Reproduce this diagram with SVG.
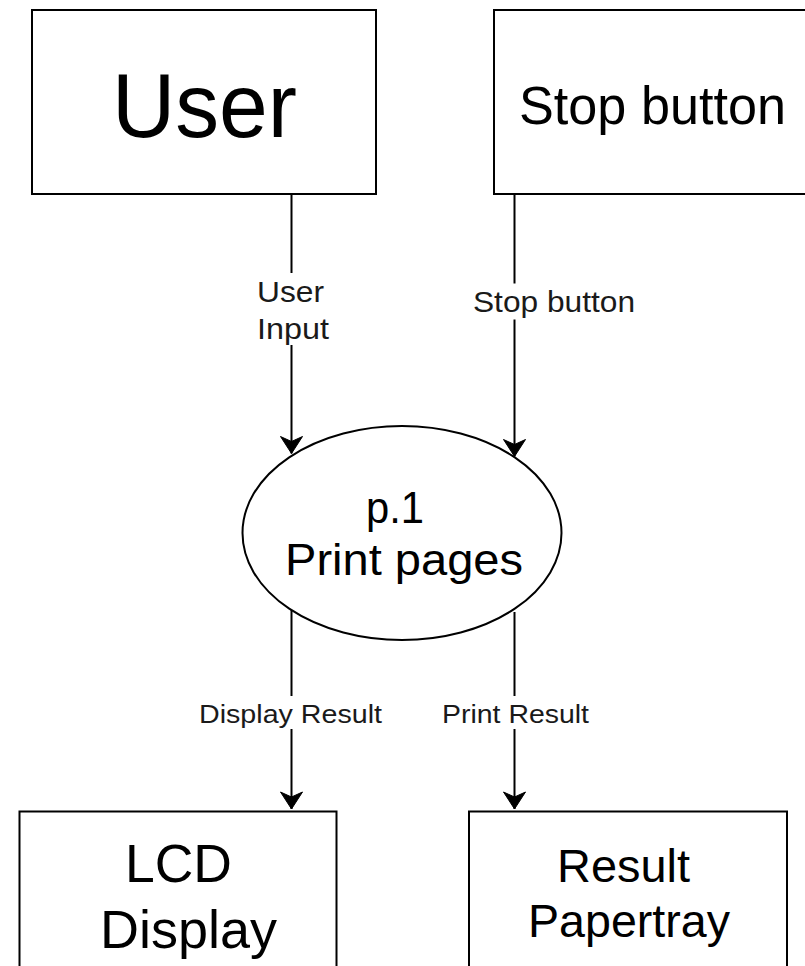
<svg xmlns="http://www.w3.org/2000/svg" width="805" height="966" viewBox="0 0 805 966">
<style>
.box{fill:#fff;stroke:#000;stroke-width:2}
.t{font-family:"Liberation Sans",Arial,Helvetica,sans-serif;fill:#000}
.lbl{font-family:"Liberation Sans",Arial,Helvetica,sans-serif;fill:#1a1a1a}
.edge{stroke:#000;stroke-width:2;fill:none}
.lblbg{fill:#fff}
</style>
<defs>
<marker id="arrow" markerUnits="userSpaceOnUse" markerWidth="30" markerHeight="30" refX="0" refY="0" viewBox="-15 -15 30 30" orient="auto" overflow="visible">
<path d="M0,0 L-17,-11 L-12,0 L-17,11 Z" fill="#000" stroke="#000" stroke-width="1"/>
</marker>
</defs>
<rect width="805" height="966" fill="#fff"/>
<g id="connectors">
<g id="e-user">
<line class="edge" x1="291.5" y1="194" x2="291.5" y2="453.5" marker-end="url(#arrow)"/>
<rect class="lblbg" x="254" y="273" width="77" height="72"/>
<text class="lbl" x="257" y="302" font-size="30" textLength="67" lengthAdjust="spacingAndGlyphs">User</text>
<text class="lbl" x="257" y="339" font-size="30" textLength="72" lengthAdjust="spacingAndGlyphs">Input</text>
</g>
<g id="e-stop">
<line class="edge" x1="514.5" y1="194" x2="514.5" y2="456.5" marker-end="url(#arrow)"/>
<rect class="lblbg" x="471" y="283.5" width="166" height="36"/>
<text class="lbl" x="473" y="312" font-size="30" textLength="162" lengthAdjust="spacingAndGlyphs">Stop button</text>
</g>
<g id="e-lcd">
<line class="edge" x1="291.5" y1="610" x2="291.5" y2="809" marker-end="url(#arrow)"/>
<rect class="lblbg" x="197" y="696" width="187" height="33"/>
<text class="lbl" x="199" y="723" font-size="26" textLength="183" lengthAdjust="spacingAndGlyphs">Display Result</text>
</g>
<g id="e-paper">
<line class="edge" x1="514.5" y1="612" x2="514.5" y2="809" marker-end="url(#arrow)"/>
<rect class="lblbg" x="440" y="696" width="151" height="33"/>
<text class="lbl" x="442" y="723" font-size="26" textLength="147" lengthAdjust="spacingAndGlyphs">Print Result</text>
</g>
</g>
<g id="user">
<rect class="box" x="32" y="10" width="344" height="184"/>
<text class="t" x="112" y="137" font-size="91" textLength="185" lengthAdjust="spacingAndGlyphs">User</text>
</g>
<g id="stop-button">
<rect class="box" x="494" y="10" width="320" height="184"/>
<text class="t" x="519" y="123.5" font-size="53" textLength="267" lengthAdjust="spacingAndGlyphs">Stop button</text>
</g>
<g id="p1">
<ellipse cx="402" cy="533" rx="159.5" ry="107" fill="#fff" stroke="#000" stroke-width="2"/>
<text class="t" x="366" y="523" font-size="44" textLength="58" lengthAdjust="spacingAndGlyphs">p.1</text>
<text class="t" x="285" y="575" font-size="44" textLength="238" lengthAdjust="spacingAndGlyphs">Print pages</text>
</g>
<g id="lcd-display">
<rect class="box" x="19.5" y="811.5" width="317" height="200"/>
<text class="t" x="125" y="882" font-size="53" textLength="107" lengthAdjust="spacingAndGlyphs">LCD</text>
<text class="t" x="100" y="948" font-size="53" textLength="177" lengthAdjust="spacingAndGlyphs">Display</text>
</g>
<g id="result-papertray">
<rect class="box" x="469" y="811.5" width="318" height="200"/>
<text class="t" x="557" y="882" font-size="47" textLength="133" lengthAdjust="spacingAndGlyphs">Result</text>
<text class="t" x="528" y="937" font-size="47" textLength="202" lengthAdjust="spacingAndGlyphs">Papertray</text>
</g>
</svg>
